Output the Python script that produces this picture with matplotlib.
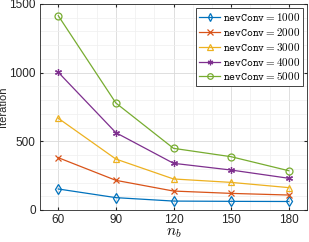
import numpy as np
import matplotlib
matplotlib.use('Agg')
import matplotlib.pyplot as plt
from matplotlib.ticker import MultipleLocator

plt.rcParams['font.family'] = ['Liberation Sans', 'DejaVu Sans']
plt.rcParams['mathtext.fontset'] = 'cm'

nb = [60, 90, 120, 150, 180]
nev_conv = [1000, 2000, 3000, 4000, 5000]
it_1000 = [153, 90, 65, 63, 62]
it_2000 = [381, 216, 138, 121, 109]
it_3000 = [668, 371, 226, 201, 163]
it_4000 = [1003, 563, 340, 291, 231]
it_5000 = [1415, 779, 449, 388, 286]

series = [it_1000, it_2000, it_3000, it_4000, it_5000]
colors = ['#0072BD', '#D95319', '#EDB120', '#7E2F8E', '#77AC30']
markers = ['d', 'x', '^', (6, 2, 0), 'o']

fig = plt.figure(figsize=(3.09, 2.42), dpi=100)
ax = fig.add_axes([40 / 309, 1 - 210 / 242, 267 / 309, 206 / 242])

for ys, nc, c, m in zip(series, nev_conv, colors, markers):
    ax.plot(nb, ys, color=c, marker=m, markersize=5, markerfacecolor='none',
            markeredgecolor=c, markeredgewidth=0.9, linewidth=0.9,
            label=r'$\mathtt{nevConv} = %d$' % nc)

ax.set_xlim(50.5, 189.5)
ax.set_ylim(0, 1500)
ax.set_xticks(nb)
ax.set_yticks([0, 500, 1000, 1500])
ax.xaxis.set_minor_locator(MultipleLocator(10))
ax.yaxis.set_minor_locator(MultipleLocator(100))
ax.grid(which='major', color='#d9d9d9', linewidth=0.6)
ax.grid(which='minor', color='#efefef', linewidth=0.5)
ax.set_axisbelow(True)
ax.tick_params(which='both', direction='in', top=True, right=True,
               labelsize=8.5, colors='#262626', length=2.5, pad=3)
ax.tick_params(which='minor', length=0)
for s in ax.spines.values():
    s.set_color('#262626')
    s.set_linewidth(0.6)
ax.set_xlabel(r'$n_b$', fontsize=11, labelpad=0)
ax.set_ylabel('Iteration', fontsize=8, color='#262626')
ax.yaxis.set_label_coords(-0.118, 0.5)

leg = ax.legend(loc='upper right', fontsize=8, handlelength=1.9,
                handletextpad=0.2, labelspacing=0.25, borderpad=0.3,
                borderaxespad=0.35, fancybox=False, framealpha=1,
                edgecolor='#262626', markerscale=0.8)
leg.get_frame().set_linewidth(0.6)

fig.savefig('out.png', dpi=100)
